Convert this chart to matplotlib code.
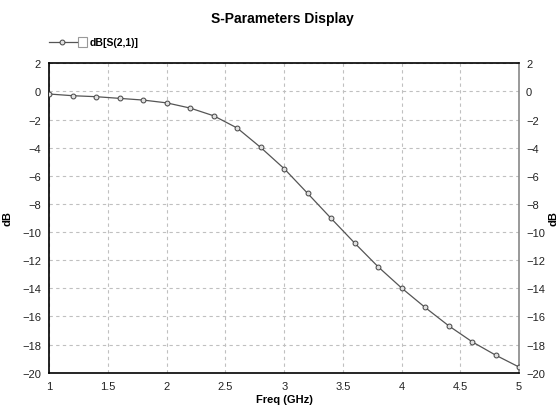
import matplotlib
matplotlib.use('Agg')
import matplotlib.pyplot as plt
from matplotlib.lines import Line2D
from matplotlib.patches import Rectangle

plt.rcParams['font.family'] = ['Liberation Sans', 'DejaVu Sans']

# S21 magnitude
freq = [1.0, 1.2, 1.4, 1.6, 1.8, 2.0, 2.2, 2.4, 2.6, 2.8, 3.0,
        3.2, 3.4, 3.6, 3.8, 4.0, 4.2, 4.4, 4.6, 4.8, 5.0]
s21_db = [-0.18, -0.3, -0.37, -0.49, -0.61, -0.81, -1.18, -1.73, -2.6, -3.98, -5.49,
          -7.25, -9.03, -10.78, -12.47, -13.98, -15.36, -16.66, -17.8, -18.75, -19.6]
xticks = [1, 1.5, 2, 2.5, 3, 3.5, 4, 4.5, 5]
xticklabels = ['1', '1.5', '2', '2.5', '3', '3.5', '4', '4.5', '5']
yticks = list(range(-20, 3, 2))

fig = plt.figure(figsize=(5.6, 4.1), dpi=100)
ax = fig.add_axes([0.088, 0.0885, 0.839, 0.7545])

ax.plot(freq, s21_db, color='#555555', lw=0.9, marker='o', ms=3.5,
        mfc='#e0e0e0', mec='#444444', mew=0.7, zorder=3)

ax.set_xlim(1, 5)
ax.set_ylim(-20, 2)
ax.set_xticks(xticks)
ax.set_xticklabels(xticklabels)
ax.set_yticks(yticks)
ax.grid(True, color='#c0c0c0', ls=(0, (3, 3)), lw=0.8)
ax.tick_params(length=0, labelsize=8, labelcolor='#222222', pad=6)
for s in ['left', 'bottom', 'top']:
    ax.spines[s].set_color('black')
    ax.spines[s].set_linewidth(1.2)
ax.spines['right'].set_color('#888888')
ax.spines['right'].set_linewidth(1.2)

ax.set_xlabel('Freq (GHz)', fontsize=8, fontweight='bold', labelpad=2)
ax.set_ylabel('dB', fontsize=8, fontweight='bold')
ax.yaxis.set_label_coords(-0.079, 0.5)

# right-hand scale, same as the left one
ax2 = ax.twinx()
ax2.set_ylim(-20, 2)
ax2.set_yticks(yticks)
ax2.tick_params(length=0, labelsize=8, labelcolor='#222222', pad=5)
for s in ax2.spines.values():
    s.set_visible(False)
ax2.set_ylabel('dB', fontsize=8, fontweight='bold', rotation=90)
ax2.yaxis.set_label_coords(1.063, 0.5)

fig.text(0.505, 0.953, 'S-Parameters Display', ha='center', va='center',
         fontsize=10, fontweight='bold')

# legend like the original: line with marker, checkbox, label
fig.add_artist(Line2D([0.088, 0.138], [0.894, 0.894], color='#555555', lw=0.9))
fig.add_artist(Line2D([0.111], [0.894], marker='o', ms=3.5, mfc='#e0e0e0',
                      mec='#444444', mew=0.7))
fig.add_artist(Rectangle((0.139, 0.882), 0.017, 0.025, fill=False,
                         ec='#999999', lw=0.8))
fig.text(0.160, 0.894, 'dB[S(2,1)]', ha='left', va='center', fontsize=7.5,
         fontweight='bold')

fig.savefig('out.png', dpi=100, facecolor='white')
